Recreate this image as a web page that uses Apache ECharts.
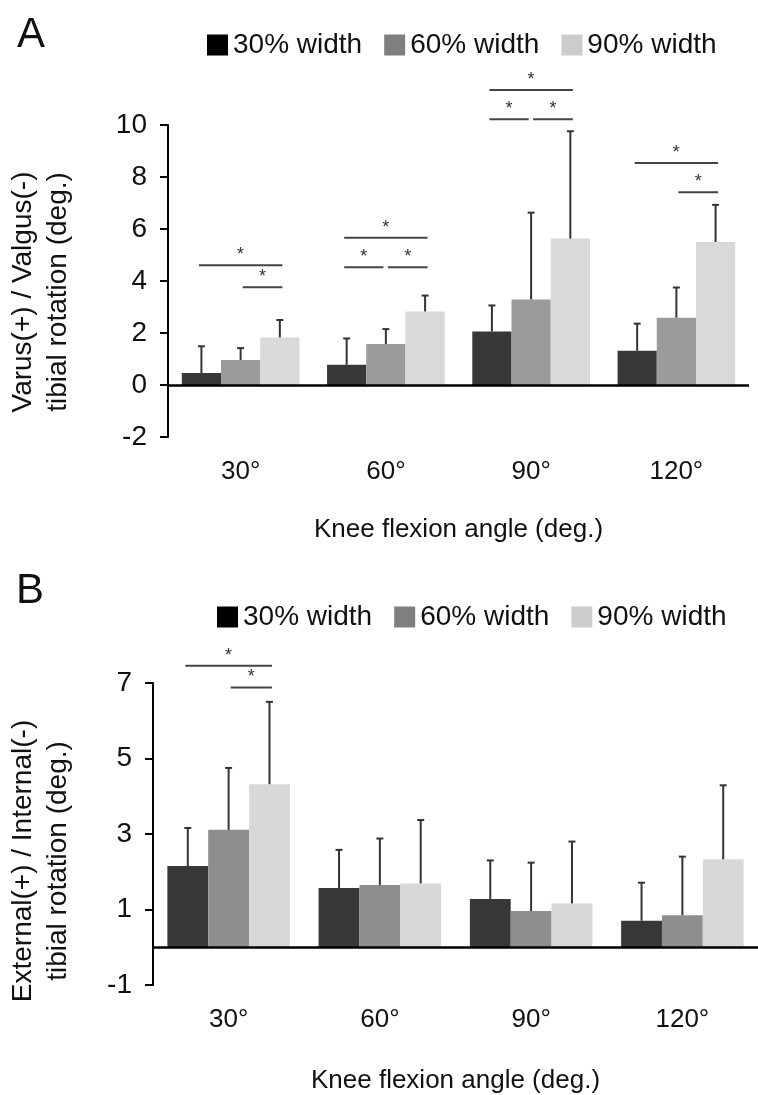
<!DOCTYPE html>
<html>
<head>
<meta charset="utf-8">
<script src="https://cdn.jsdelivr.net/npm/echarts@6/dist/echarts.min.js"></script>
<style>
  html, body { margin: 0; padding: 0; background: #fff; }
  #chart { width: 758px; height: 1095px; }
</style>
</head>
<body>
<div id="chart"></div>
<script>
const categories = ['30°', '60°', '90°', '120°']
const seriesNames = ['30% width', '60% width', '90% width']

// A: varus / valgus, means and SD
const varusMean30 = [0.46, 0.78, 2.06, 1.32]
const varusMean60 = [0.96, 1.58, 3.29, 2.59]
const varusMean90 = [1.83, 2.83, 5.63, 5.50]
const varusSd30 = [1.03, 1.01, 1.00, 1.04]
const varusSd60 = [0.46, 0.57, 3.34, 1.16]
const varusSd90 = [0.67, 0.61, 4.13, 1.43]
const varusTicks = [-2, 0, 2, 4, 6, 8, 10]
// significance bars: [category, fromBar, toBar, level]
const varusSig = [
  [0, 0, 2, 4.61], [0, 1, 2, 3.76],
  [1, 0, 2, 5.66], [1, 0, 1, 4.53], [1, 1, 2, 4.53],
  [2, 0, 2, 11.35], [2, 0, 1, 10.22], [2, 1, 2, 10.22],
  [3, 0, 2, 8.54], [3, 1, 2, 7.41]
]

// B: external / internal rotation
const rotMean30 = [2.15, 1.57, 1.28, 0.70]
const rotMean60 = [3.11, 1.65, 0.96, 0.85]
const rotMean90 = [4.32, 1.69, 1.16, 2.33]
const rotSd30 = [1.01, 1.01, 1.02, 1.01]
const rotSd60 = [1.64, 1.23, 1.28, 1.55]
const rotSd90 = [2.18, 1.68, 1.64, 1.96]
const rotTicks = [-1, 1, 3, 5, 7]
const rotSig = [[0, 0, 2, 7.46], [0, 1, 2, 6.88]]

const FONT = "'Liberation Sans', Arial, sans-serif"
const GAP = 0.19
const colorsA = ['#383838', '#9b9b9b', '#d9d9d9']
const colorsB = ['#383838', '#8e8e8e', '#d8d8d8']
const legendColors = ['#000000', '#7f7f7f', '#cccccc']

function barX(api, cat, k) {
  const band = api.size([1, 0])[0]
  const bw = band * (1 - GAP) / 3
  return api.coord([cat, 0])[0] + (k - 1) * bw
}

function renderErr(params, api) {
  const cat = api.value(0), k = api.value(1)
  const x = barX(api, cat, k)
  const y0 = api.coord([cat, api.value(2)])[1]
  const y1 = api.coord([cat, api.value(3)])[1]
  const st = { stroke: '#333', lineWidth: 2 }
  return {
    type: 'group',
    children: [
      { type: 'line', shape: { x1: x, y1: y0, x2: x, y2: y1 }, style: st },
      { type: 'line', shape: { x1: x - 3.5, y1: y1, x2: x + 3.5, y2: y1 }, style: st }
    ]
  }
}

function renderSig(params, api) {
  const cat = api.value(0), from = api.value(1), to = api.value(2)
  const y = api.coord([cat, api.value(3)])[1]
  let x1 = barX(api, cat, from) - 2.5
  let x2 = barX(api, cat, to) + 2.5
  if (to === 1) x2 = barX(api, cat, 1) - 2.5
  if (from === 1) x1 = barX(api, cat, 1) + 2
  return {
    type: 'group',
    children: [
      { type: 'line', shape: { x1: x1, y1: y, x2: x2, y2: y }, style: { stroke: '#444', lineWidth: 2 } },
      {
        type: 'text', x: (x1 + x2) / 2, y: y - 1,
        style: { text: '*', fill: '#333', font: '18px ' + FONT, align: 'center', verticalAlign: 'bottom' }
      }
    ]
  }
}

function errData(means, sds, k) {
  return means.map((m, i) => [i, k, m, m + sds[i]])
}

function makeBars(gi, means, colors) {
  return means.map((d, k) => ({
    name: seriesNames[k],
    type: 'bar',
    xAxisIndex: gi,
    yAxisIndex: gi,
    data: d,
    barGap: '0%',
    barCategoryGap: (GAP * 100) + '%',
    itemStyle: { color: colors[k] },
    markLine: k === 0 ? {
      silent: true,
      symbol: 'none',
      label: { show: false },
      lineStyle: { color: '#000', width: 2.5, type: 'solid' },
      data: [{ yAxis: 0 }]
    } : undefined
  }))
}

function legendItems() {
  return seriesNames.map((n, k) => ({ name: n, itemStyle: { color: legendColors[k] } }))
}

function yAxisOf(gi, ticks) {
  return {
    type: 'value',
    gridIndex: gi,
    min: ticks[0],
    max: ticks[ticks.length - 1],
    interval: ticks[1] - ticks[0],
    axisLine: { show: true, lineStyle: { color: '#000', width: 2 } },
    axisTick: { show: true, length: 8, lineStyle: { color: '#000', width: 2 } },
    axisLabel: { fontSize: 28, color: '#111', fontFamily: FONT, margin: 21 },
    splitLine: { show: false }
  }
}

function xAxisOf(gi, gap) {
  return {
    type: 'category',
    gridIndex: gi,
    data: categories,
    axisLine: { show: false, onZero: false },
    axisTick: { show: false },
    axisLabel: { fontSize: 26, color: '#111', fontFamily: FONT, margin: 22 },
    name: 'Knee flexion angle (deg.)',
    nameLocation: 'middle',
    nameGap: gap,
    nameTextStyle: { fontSize: 26, color: '#111', fontFamily: FONT }
  }
}

const chart = echarts.init(document.getElementById('chart'))
const option = {
  animation: false,
  backgroundColor: '#fff',
  textStyle: { fontFamily: FONT },
  title: [
    { text: 'A', left: 12, top: 9, textStyle: { fontSize: 42, fontWeight: 'normal', color: '#111', fontFamily: FONT } },
    { text: 'B', left: 11, top: 565, textStyle: { fontSize: 42, fontWeight: 'normal', color: '#111', fontFamily: FONT } }
  ],
  legend: [
    {
      left: 202, top: 26, icon: 'rect', itemWidth: 21, itemHeight: 21, itemGap: 22,
      textStyle: { fontSize: 28, color: '#111', fontFamily: FONT },
      data: legendItems()
    },
    {
      left: 212, top: 598, icon: 'rect', itemWidth: 21, itemHeight: 21, itemGap: 22,
      textStyle: { fontSize: 28, color: '#111', fontFamily: FONT },
      data: legendItems()
    }
  ],
  graphic: [
    {
      type: 'text', x: 41, y: 292, rotation: Math.PI / 2,
      style: {
        text: 'Varus(+) / Valgus(-)\ntibial rotation (deg.)', fill: '#111',
        font: '28px ' + FONT, align: 'center', verticalAlign: 'middle', lineHeight: 35
      }
    },
    {
      type: 'text', x: 41, y: 861, rotation: Math.PI / 2,
      style: {
        text: 'External(+) / Internal(-)\ntibial rotation (deg.)', fill: '#111',
        font: '28px ' + FONT, align: 'center', verticalAlign: 'middle', lineHeight: 35
      }
    }
  ],
  grid: [
    { left: 168, top: 125, width: 581, height: 312 },
    { left: 153, top: 683, width: 616, height: 305 }
  ],
  xAxis: [xAxisOf(0, 80), xAxisOf(1, 83)],
  yAxis: [yAxisOf(0, varusTicks), yAxisOf(1, rotTicks)],
  series: [
    ...makeBars(0, [varusMean30, varusMean60, varusMean90], colorsA),
    ...makeBars(1, [rotMean30, rotMean60, rotMean90], colorsB),
    {
      type: 'custom', name: 'errA', xAxisIndex: 0, yAxisIndex: 0, z: 5,
      renderItem: renderErr,
      data: [...errData(varusMean30, varusSd30, 0), ...errData(varusMean60, varusSd60, 1), ...errData(varusMean90, varusSd90, 2)]
    },
    {
      type: 'custom', name: 'errB', xAxisIndex: 1, yAxisIndex: 1, z: 5,
      renderItem: renderErr,
      data: [...errData(rotMean30, rotSd30, 0), ...errData(rotMean60, rotSd60, 1), ...errData(rotMean90, rotSd90, 2)]
    },
    { type: 'custom', name: 'sigA', xAxisIndex: 0, yAxisIndex: 0, z: 5, clip: false, renderItem: renderSig, data: varusSig },
    { type: 'custom', name: 'sigB', xAxisIndex: 1, yAxisIndex: 1, z: 5, clip: false, renderItem: renderSig, data: rotSig }
  ]
}
chart.setOption(option)
</script>
</body>
</html>
